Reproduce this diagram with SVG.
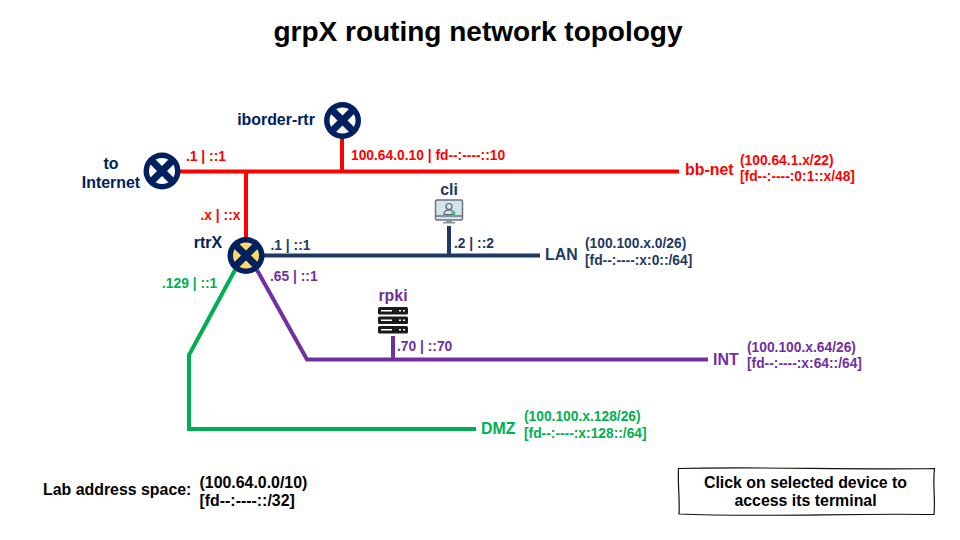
<svg xmlns="http://www.w3.org/2000/svg" width="960" height="540" viewBox="0 0 960 540">
<style>
text{font-family:"Liberation Sans",Arial,sans-serif;font-weight:700}
.t{font-size:15.900px}
.s{font-size:13.800px}
.navy{fill:#002060}.dk{fill:#1f3864}.red{fill:#ff0000}.grn{fill:#00b050}.pur{fill:#7030a0}
.c{fill:none;stroke-width:4}
</style>
<defs>
<g id="x"><line x1="-12" y1="-12" x2="12" y2="12" stroke="#002060" stroke-width="7"/><line x1="-12" y1="12" x2="12" y2="-12" stroke="#002060" stroke-width="7"/></g>
</defs>
<rect width="960" height="540" fill="#fff"/>
<text x="478" y="41" text-anchor="middle" style="font-size:28px">grpX routing network topology</text>
<g id="connectors">
<path class="c" stroke="#ff0000" d="M178 171.500H679M342 171V137M246 171V240"/>
<path class="c" stroke="#1f3864" d="M262 255.500H540M449 255V226"/>
<path class="c" stroke="#7030a0" d="M257 270L307 359.500H708M393 359V336"/>
<path class="c" stroke="#00b050" d="M235 270L189 355V429H476"/>
</g>
<g id="iborder-rtr"><circle cx="342.500" cy="120.500" r="18.500" fill="#002060"/><circle cx="342.500" cy="120.500" r="13" fill="#fff"/><use href="#x" x="342.500" y="120.500"/><text class="t navy" x="276" y="125" text-anchor="middle">iborder-rtr</text></g>
<g id="to-internet"><circle cx="162" cy="171" r="18.500" fill="#002060"/><circle cx="162" cy="171" r="13" fill="#fff"/><use href="#x" x="162" y="171"/><text class="t navy" x="111" y="169" text-anchor="middle">to</text><text class="t navy" x="111" y="188" text-anchor="middle">Internet</text></g>
<g id="rtrX"><circle cx="246" cy="255.500" r="18.500" fill="#002060"/><circle cx="246" cy="255.500" r="13" fill="#ffd966"/><use href="#x" x="246" y="255.500"/><text class="t navy" x="208" y="248" text-anchor="middle">rtrX</text></g>
<g id="cli"><text class="t dk" x="449" y="195" text-anchor="middle">cli</text>
<rect x="435.500" y="200" width="27" height="20" rx="1.500" fill="#d5e3ea" stroke="#6b7480" stroke-width="1.500"/><line x1="435.500" y1="216" x2="462.500" y2="216" stroke="#6b7480" stroke-width="1.500"/><path d="M446 220h6v2h3v1.500h-12v-1.500h3z" fill="#8a929c"/><circle cx="449" cy="206.500" r="3" fill="none" stroke="#5a6470" stroke-width="1.200"/><path d="M444 214.500c0-3 2-4.500 5-4.500s5 1.500 5 4.500z" fill="none" stroke="#5a6470" stroke-width="1.200"/><circle cx="453.500" cy="213" r="2" fill="#3fbf7f"/></g>
<g id="rpki"><text class="t pur" x="393" y="301" text-anchor="middle">rpki</text>
<g fill="#1a1a1a"><rect x="378" y="307" width="30" height="7.500" rx="1.500"/><rect x="378" y="316.500" width="30" height="7.500" rx="1.500"/><rect x="378" y="326" width="30" height="7.500" rx="1.500"/></g>
<g fill="none" stroke="#fff" stroke-width="1.500"><path d="M381 310.700h11M399 310.700h2M403 310.700h2M381 320.200h11M399 320.200h2M403 320.200h2M381 329.700h11M399 329.700h2M403 329.700h2"/></g></g>
<g id="labels">
<text class="s red" x="186" y="161">.1 | ::1</text>
<text class="s red" x="351" y="160">100.64.0.10 | fd--:----::10</text>
<text class="s red" x="200.500" y="220">.x | ::x</text>
<text class="s dk" x="270.500" y="250">.1 | ::1</text>
<text class="s dk" x="454" y="248">.2 | ::2</text>
<text class="s pur" x="270" y="281">.65 | ::1</text>
<text class="s pur" x="397" y="351">.70 | ::70</text>
<text class="s grn" x="162" y="288">.129 | ::1</text>
<text class="t red" x="685" y="175">bb-net</text>
<text class="s red" x="740" y="165">(100.64.1.x/22)</text>
<text class="s red" x="740" y="181">[fd--:----:0:1::x/48]</text>
<text class="t dk" x="545" y="260">LAN</text>
<text class="s dk" x="585" y="248">(100.100.x.0/26)</text>
<text class="s dk" x="585" y="265">[fd--:----:x:0::/64]</text>
<text class="t pur" x="713" y="365">INT</text>
<text class="s pur" x="747" y="352">(100.100.x.64/26)</text>
<text class="s pur" x="747" y="368">[fd--:----:x:64::/64]</text>
<text class="t grn" x="481" y="434">DMZ</text>
<text class="s grn" x="524" y="421">(100.100.x.128/26)</text>
<text class="s grn" x="524" y="438">[fd--:----:x:128::/64]</text>
<text class="t" x="43" y="495">Lab address space:</text>
<text class="t" x="199.500" y="488">(100.64.0.0/10)</text>
<text class="t" x="199.500" y="506">[fd--:----::/32]</text>
</g>
<g id="note"><path d="M678.500 468.500C760 466.500 850 470 934.500 468.500C932.500 484 935.500 498 934 514.500C850 513 760 517.500 679 514C680 498 677.500 484 678.500 468.500Z" fill="#fff" stroke="#111" stroke-width="1.200"/><text class="t" x="805.500" y="488" text-anchor="middle">Click on selected device to</text><text class="t" x="805.500" y="506" text-anchor="middle">access its terminal</text></g>
</svg>
